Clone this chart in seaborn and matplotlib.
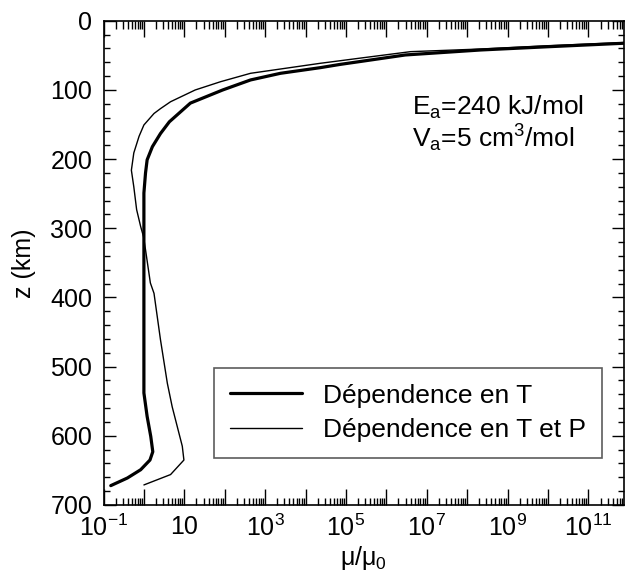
import numpy as np
import pandas as pd
import matplotlib
matplotlib.use('Agg')
import matplotlib.pyplot as plt
import matplotlib.ticker as mticker
import seaborn as sns

# depth (km) and log10(mu/mu0)
z_T = [30.5, 32.5, 37.5, 42.2, 49.4, 58.8, 63, 67.7, 75.9, 85.5, 100, 119,
       146, 163, 182, 201, 220, 249, 312, 400, 538, 572, 601, 623, 635, 649,
       661, 672]
logmu_T = [12.2, 11.86, 10.0, 8.33, 6.47, 5.36, 4.86, 4.37, 3.38, 2.64, 1.95,
           1.15, 0.63, 0.41, 0.21, 0.08, 0.04, 0.0, 0.0, 0.0, 0.0, 0.08, 0.17,
           0.22, 0.15, -0.08, -0.41, -0.82]

z_TP = [29.5, 31.5, 36, 40.8, 44.6, 53.9, 57.7, 61.4, 69.7, 75.9, 88, 100, 117,
        127, 134, 150.6, 167, 191, 216, 240, 273, 297.5, 312, 331, 379, 394,
        461, 524, 558, 615, 635, 656, 671]
logmu_TP = [12.2, 11.86, 10.0, 8.33, 6.6, 5.36, 4.86, 4.37, 3.38, 2.64, 1.9,
            1.27, 0.66, 0.41, 0.25, 0.0, -0.12, -0.25, -0.31, -0.25, -0.18,
            -0.08, -0.01, 0.04, 0.16, 0.25, 0.41, 0.58, 0.7, 0.95, 0.99, 0.66,
            0.0]

labels = ['Dépendence en T', 'Dépendence en T et P']
xtick_exp = [-1, 1, 3, 5, 7, 9, 11]
ytick_vals = [0, 100, 200, 300, 400, 500, 600, 700]

sns.set_style('ticks')
plt.rcParams['font.family'] = ['Liberation Sans', 'DejaVu Sans']
plt.rcParams['mathtext.default'] = 'regular'
plt.rcParams['text.color'] = 'black'
plt.rcParams['axes.labelcolor'] = 'black'
plt.rcParams['xtick.color'] = 'black'
plt.rcParams['ytick.color'] = 'black'

fig = plt.figure(figsize=(6.25, 5.83), dpi=100)
ax = fig.add_axes([103.5 / 625, 1 - 505 / 583, 520 / 625, 484.2 / 583])

df_T = pd.DataFrame({'mu': np.power(10.0, logmu_T), 'z': z_T})
df_TP = pd.DataFrame({'mu': np.power(10.0, logmu_TP), 'z': z_TP})

sns.lineplot(data=df_T, x='mu', y='z', sort=False, estimator=None,
             color='black', linewidth=2.3, label=labels[0], ax=ax)
sns.lineplot(data=df_TP, x='mu', y='z', sort=False, estimator=None,
             color='black', linewidth=1.0, label=labels[1], ax=ax)

ax.set_xscale('log')
ax.set_xlim(0.1, 10 ** 11.87)
ax.set_ylim(700, 0)

# x ticks: every decade, labels on odd exponents
ax.xaxis.set_major_locator(mticker.LogLocator(base=10, numticks=30))
ax.xaxis.set_minor_locator(mticker.LogLocator(base=10, subs=np.arange(2, 10), numticks=30))


def fmt(v, pos):
    e = int(round(np.log10(v)))
    if e not in xtick_exp:
        return ''
    if e == 1:
        return '10'
    return '$10^{%d}$' % e


ax.xaxis.set_major_formatter(mticker.FuncFormatter(fmt))
ax.xaxis.set_minor_formatter(mticker.NullFormatter())

ax.set_yticks(ytick_vals)
ax.set_yticklabels([str(v) for v in ytick_vals])
ax.yaxis.set_minor_locator(mticker.MultipleLocator(20))

ax.tick_params(axis='both', which='both', direction='in', top=True, right=True,
               colors='black', width=1.0, labelsize=18)
ax.tick_params(axis='x', which='major', length=11.5, pad=7)
ax.tick_params(axis='x', which='minor', length=5.4)
ax.tick_params(axis='y', which='major', length=8.6, pad=8)
ax.tick_params(axis='y', which='minor', length=4.3)

for s in ax.spines.values():
    s.set_linewidth(1.2)
    s.set_color('black')

ax.set_xlabel('μ/μ$_0$', fontsize=18, labelpad=2)
ax.set_ylabel('z (km)', fontsize=18, labelpad=10)

ax.text(0.593, 0.805, '$E_a$=240 kJ/mol', transform=ax.transAxes,
        fontsize=19, va='baseline', ha='left')
ax.text(0.593, 0.739, '$V_a$=5 cm$^3$/mol', transform=ax.transAxes,
        fontsize=19, va='baseline', ha='left')

leg = ax.legend(loc='lower right', bbox_to_anchor=(0.959, 0.097), fontsize=19,
                frameon=True, fancybox=False, handlelength=2.75,
                handletextpad=0.8, labelspacing=0.4, borderpad=0.6,
                borderaxespad=0)
leg.get_frame().set_edgecolor('#333333')
leg.get_frame().set_linewidth(1.2)

fig.savefig('out.png', dpi=100)
